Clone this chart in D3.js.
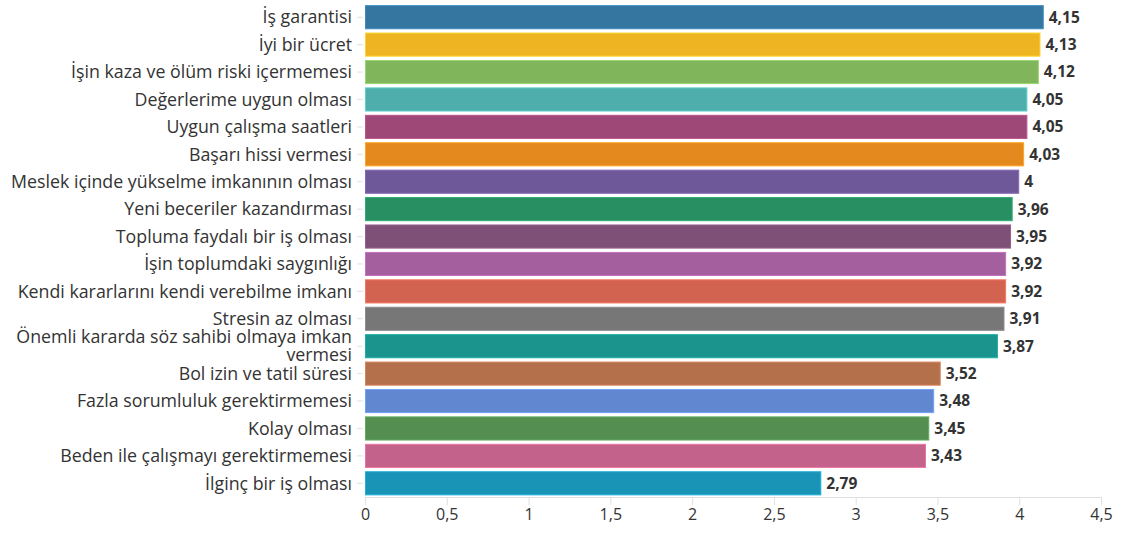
<!DOCTYPE html>
<html>
<head>
<meta charset="utf-8">
<script src="https://cdn.jsdelivr.net/npm/d3@7"></script>
<style>
  html, body { margin: 0; padding: 0; background: #fff; }
  svg { display: block; font-family: "Open Sans", "Noto Sans", sans-serif; }
</style>
</head>
<body>
<svg id="chart" width="1123" height="534"></svg>
<script>
// Job-attribute importance scores (mean)
const categories = [
  "İş garantisi",
  "İyi bir ücret",
  "İşin kaza ve ölüm riski içermemesi",
  "Değerlerime uygun olması",
  "Uygun çalışma saatleri",
  "Başarı hissi vermesi",
  "Meslek içinde yükselme imkanının olması",
  "Yeni beceriler kazandırması",
  "Topluma faydalı bir iş olması",
  "İşin toplumdaki saygınlığı",
  "Kendi kararlarını kendi verebilme imkanı",
  "Stresin az olması",
  "Önemli kararda söz sahibi olmaya imkan vermesi",
  "Bol izin ve tatil süresi",
  "Fazla sorumluluk gerektirmemesi",
  "Kolay olması",
  "Beden ile çalışmayı gerektirmemesi",
  "İlginç bir iş olması"
];
const values = [4.15, 4.13, 4.12, 4.05, 4.05, 4.03, 4, 3.96, 3.95, 3.92, 3.92, 3.91, 3.87, 3.52, 3.48, 3.45, 3.43, 2.79];
const barColors = [
  "#34769f", "#eeb422", "#81b55b", "#4eaeac", "#9e4878", "#e4891e",
  "#6f5899", "#278f62", "#7e5078", "#a35f9e", "#d16350", "#777777",
  "#1a948c", "#b46f4b", "#6087d0", "#548f51", "#c3628a", "#1a94b6"
];
const tickValues = [0, 0.5, 1, 1.5, 2, 2.5, 3, 3.5, 4, 4.5];

const rows = categories.map((c, i) => ({ name: c, value: values[i], color: barColors[i] }));

const svg = d3.select("#chart");
const plotLeft = 365, plotRight = 1101, plotTop = 3.5, plotBottom = 497;

const x = d3.scaleLinear().domain([0, 4.5]).range([plotLeft, plotRight]);
const y = d3.scaleBand().domain(categories).range([plotTop, plotBottom]).paddingInner(0.12).paddingOuter(0.06);

const fmt = v => String(v).replace(".", ",");

// x axis
const xAxis = svg.append("g")
  .attr("transform", `translate(0,${plotBottom})`)
  .call(d3.axisBottom(x).tickValues(tickValues).tickSize(8).tickPadding(4).tickFormat(fmt));
xAxis.select(".domain").attr("stroke", "#e0e0e0");
xAxis.selectAll(".tick line").attr("stroke", "#e0e0e0");
xAxis.selectAll(".tick text")
  .attr("fill", "#333")
  .style("font-size", "16px")
  .style("font-family", "'Open Sans', sans-serif");

// category ticks
svg.append("g").selectAll("line")
  .data(rows).join("line")
  .attr("x1", plotLeft - 8).attr("x2", plotLeft - 2)
  .attr("y1", d => y(d.name) + y.bandwidth() / 2)
  .attr("y2", d => y(d.name) + y.bandwidth() / 2)
  .attr("stroke", "#e0e0e0");

// bars
svg.append("g").selectAll("rect")
  .data(rows).join("rect")
  .attr("x", x(0) + 0.5)
  .attr("y", d => y(d.name) + 0.5)
  .attr("width", d => x(d.value) - x(0) - 1)
  .attr("height", y.bandwidth() - 1)
  .attr("fill", d => d.color)
  .attr("stroke", d => d3.color(d.color).brighter(0.5))
  .attr("stroke-width", 1);

// category labels, wrapped when too long
const labelX = 352, maxWidth = 346, lineH = 18;
const labels = svg.append("g")
  .attr("fill", "#333")
  .style("font-size", "17.8px")
  .attr("text-anchor", "end");

rows.forEach(d => {
  const cy = y(d.name) + y.bandwidth() / 2;
  const t = labels.append("text").attr("x", labelX);
  const words = d.name.split(" ");
  let lines = [], cur = [];
  const probe = labels.append("text").attr("visibility", "hidden");
  words.forEach(w => {
    const test = cur.concat([w]).join(" ");
    probe.text(test);
    if (probe.node().getComputedTextLength() > maxWidth && cur.length) {
      lines.push(cur.join(" "));
      cur = [w];
    } else cur.push(w);
  });
  lines.push(cur.join(" "));
  probe.remove();
  const y0 = cy - (lines.length - 1) * lineH / 2;
  lines.forEach((ln, k) => {
    t.append("tspan").attr("x", labelX).attr("y", y0 + k * lineH).attr("dy", "0.35em").text(ln);
  });
});

// value labels
svg.append("g").selectAll("text")
  .data(rows).join("text")
  .attr("x", d => x(d.value) + 5)
  .attr("y", d => y(d.name) + y.bandwidth() / 2)
  .attr("dy", "0.35em")
  .attr("fill", "#333")
  .style("font-size", "15.5px")
  .style("font-weight", "700")
  .text(d => fmt(d.value));
</script>
</body>
</html>
